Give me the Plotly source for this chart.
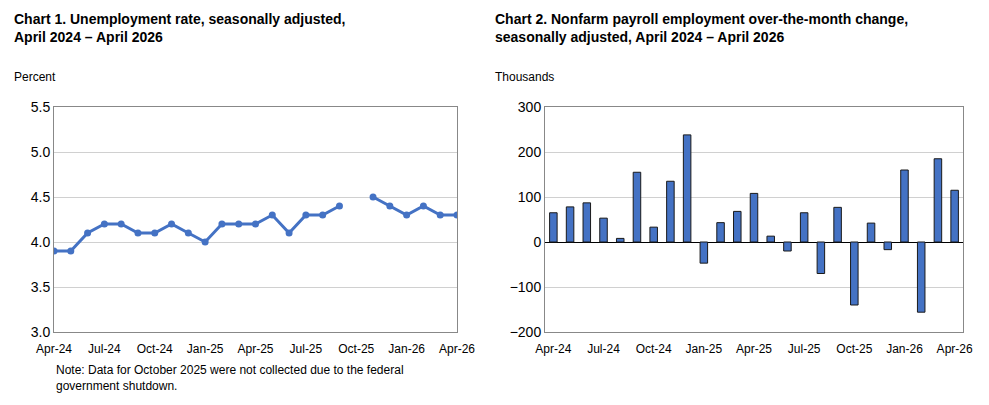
import plotly.graph_objects as go

months = ["Apr-24","May-24","Jun-24","Jul-24","Aug-24","Sep-24","Oct-24","Nov-24","Dec-24",
          "Jan-25","Feb-25","Mar-25","Apr-25","May-25","Jun-25","Jul-25","Aug-25","Sep-25",
          "Oct-25","Nov-25","Dec-25","Jan-26","Feb-26","Mar-26","Apr-26"]
unemp = [3.9,3.9,4.1,4.2,4.2,4.1,4.1,4.2,4.1,4.0,4.2,4.2,4.2,4.3,4.1,4.3,4.3,4.4,
         None,4.5,4.4,4.3,4.4,4.3,4.3]
payroll = [65,78,87,53,8,155,33,135,238,-47,43,68,108,13,-20,65,-70,77,-140,42,-17,160,-156,185,115]
tick_labels = ["Apr-24","Jul-24","Oct-24","Jan-25","Apr-25","Jul-25","Oct-25","Jan-26","Apr-26"]

W, H, OFF = 989, 405, 8
def px(x): return (x - OFF) / W
def py(y): return 1 - (y - OFF) / H

idx = list(range(len(months)))
tickvals = [months.index(t) for t in tick_labels]
blue = "#4472C4"
fig = go.Figure()
fig.add_trace(go.Scatter(x=idx, y=unemp, mode="lines+markers", line=dict(color=blue, width=3),
                         marker=dict(size=7, color=blue), connectgaps=False, xaxis="x", yaxis="y"))
fig.add_trace(go.Bar(x=idx, y=payroll, marker=dict(color=blue, line=dict(color="#1a1a1a", width=1)),
                     width=0.45, xaxis="x2", yaxis="y2"))
ax = dict(showline=True, linecolor="#888", mirror=True, ticks="outside", ticklen=6, tickcolor="rgba(0,0,0,0)",
          tickfont=dict(size=12, color="#000"), automargin=False,
          tickvals=tickvals, ticktext=tick_labels, showgrid=False, zeroline=False)
ay = dict(showline=True, linecolor="#888", mirror=True, gridcolor="#d0d0d0", tickfont=dict(size=14, color="#000"),
          ticks="", zeroline=False, automargin=False)
fig.update_layout(
    width=W, height=H, margin=dict(l=0, r=0, t=0, b=0), showlegend=False,
    paper_bgcolor="white", plot_bgcolor="white", font=dict(family="Liberation Sans, Arial", color="#000"),
    xaxis=dict(ax, domain=[px(54), px(457)], range=[0, 24]),
    yaxis=dict(ay, domain=[py(332), py(107)], range=[3.0, 5.5], tickvals=[3.0,3.5,4.0,4.5,5.0,5.5], tickformat=".1f"),
    xaxis2=dict(ax, domain=[px(545), px(963)], range=[-0.5, 24.5], anchor="y2"),
    yaxis2=dict(ay, domain=[py(332), py(107)], range=[-200, 300], dtick=100, anchor="x2", zeroline=True,
                zerolinecolor="#000", zerolinewidth=1),
    bargap=0.5,
)
ann = [
    dict(x=12, y=28, text="<b>Chart 1. Unemployment rate, seasonally adjusted,<br>April 2024 – April 2026</b>", size=14),
    dict(x=493, y=28, text="<b>Chart 2. Nonfarm payroll employment over-the-month change,<br>seasonally adjusted, April 2024 – April 2026</b>", size=14),
    dict(x=12, y=77, text="Percent", size=12),
    dict(x=493, y=77, text="Thousands", size=12),
    dict(x=54, y=378, text="Note: Data for October 2025 were not collected due to the federal<br>government shutdown.", size=12),
]
for a in ann:
    fig.add_annotation(x=px(a["x"]), y=py(a["y"]), xref="paper", yref="paper", text=a["text"], showarrow=False,
                       xanchor="left", yanchor="middle", align="left", font=dict(size=a["size"]))
fig.write_html("out.html")
